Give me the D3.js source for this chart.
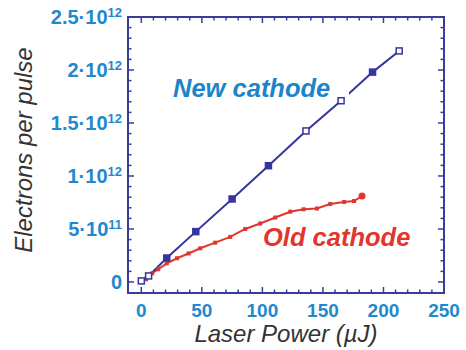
<!DOCTYPE html>
<html>
<head>
<meta charset="utf-8">
<script src="https://cdn.jsdelivr.net/npm/d3@7"></script>
<style>
  body { margin: 0; background: #fff; }
  svg { display: block; font-family: "Liberation Sans", Arial, sans-serif; }
</style>
</head>
<body>
<div id="chart"></div>
<script>
const width = 466;
const height = 350;

// New cathode (laser power in uJ, electrons per pulse in 1e12)
const newPower = [0, 6, 21, 45, 75, 105, 136, 165, 191, 213];
const newCharge = [0.01, 0.057, 0.226, 0.475, 0.783, 1.097, 1.425, 1.71, 1.98, 2.18];
const newFilled = [false, false, true, true, true, true, false, false, true, false];

// Old cathode
const oldPower = [0, 4, 9, 14, 21, 29.5, 39, 48.7, 61, 73.4, 85.8, 98.2, 110.6, 123, 134, 145, 156, 167.5, 175.7, 182.3];
const oldCharge = [0.003, 0.025, 0.082, 0.12, 0.176, 0.224, 0.269, 0.318, 0.371, 0.425, 0.5, 0.552, 0.608, 0.663, 0.686, 0.693, 0.736, 0.755, 0.764, 0.811];

const xMajorTicks = [0, 50, 100, 150, 200, 250];
const yMajorTicks = [0, 0.5, 1, 1.5, 2, 2.5];
const yTickMantissa = ["0", "5", "1", "1.5", "2", "2.5"];
const yTickExponent = ["", "11", "12", "12", "12", "12"];

const frameColor = "#3b3b9c";
const tickLabelColor = "#1f88cf";
const newColor = "#35359e";
const oldColor = "#e2352e";

const margin = { top: 17, right: 22, bottom: 57, left: 128 };

const svg = d3.select("#chart")
  .append("svg")
  .attr("width", width)
  .attr("height", height);

const x = d3.scaleLinear()
  .domain([-11, 250])
  .range([margin.left, width - margin.right]);

const y = d3.scaleLinear()
  .domain([-0.104, 2.5])
  .range([height - margin.bottom, margin.top]);

const x0 = x.range()[0], x1 = x.range()[1];
const y0 = y.range()[0], y1 = y.range()[1];

// ticks on all four sides, pointing inward
const xMinor = d3.range(0, 251, 10);
const yMinor = d3.range(0, 2.51, 0.1).map(v => +v.toFixed(2));
const ticks = svg.append("g").attr("stroke", frameColor).attr("stroke-width", 1.5);

xMinor.forEach(v => {
  const len = v % 50 === 0 ? 6 : 3.5;
  ticks.append("line").attr("x1", x(v)).attr("x2", x(v)).attr("y1", y0).attr("y2", y0 - len);
  ticks.append("line").attr("x1", x(v)).attr("x2", x(v)).attr("y1", y1).attr("y2", y1 + len);
});

yMinor.forEach(v => {
  const len = Math.abs(v * 2 - Math.round(v * 2)) < 1e-6 ? 6 : 3.5;
  ticks.append("line").attr("y1", y(v)).attr("y2", y(v)).attr("x1", x0).attr("x2", x0 + len);
  ticks.append("line").attr("y1", y(v)).attr("y2", y(v)).attr("x1", x1).attr("x2", x1 - len);
});

svg.append("rect")
  .attr("x", x0)
  .attr("y", y1)
  .attr("width", x1 - x0)
  .attr("height", y0 - y1)
  .attr("fill", "none")
  .attr("stroke", frameColor)
  .attr("stroke-width", 2);

// tick labels
svg.append("g")
  .selectAll("text")
  .data(xMajorTicks)
  .join("text")
  .attr("x", d => x(d))
  .attr("y", 317)
  .attr("text-anchor", "middle")
  .attr("fill", tickLabelColor)
  .attr("font-size", 19)
  .attr("font-weight", "bold")
  .text(d => d);

const yLabels = svg.append("g")
  .selectAll("text")
  .data(yMajorTicks)
  .join("text")
  .attr("x", 122)
  .attr("y", d => y(d) + 7)
  .attr("text-anchor", "end")
  .attr("fill", tickLabelColor)
  .attr("font-size", 20)
  .attr("font-weight", "bold");

yLabels.each(function(d, i) {
  const t = d3.select(this);
  if (yTickExponent[i] === "") {
    t.text(yTickMantissa[i]);
    return;
  }
  t.append("tspan").text(`${yTickMantissa[i]}\u00b710`);
  t.append("tspan")
    .attr("font-size", 13)
    .attr("dy", -7)
    .text(yTickExponent[i]);
});

// axis titles
svg.append("text")
  .attr("x", (x0 + x1) / 2)
  .attr("y", 342)
  .attr("text-anchor", "middle")
  .attr("fill", "#333")
  .attr("font-size", 24)
  .attr("font-style", "italic")
  .text("Laser Power (\u00b5J)");

svg.append("text")
  .attr("transform", `translate(32, ${(y0 + y1) / 2 - 5}) rotate(-90)`)
  .attr("text-anchor", "middle")
  .attr("fill", "#333")
  .attr("font-size", 24)
  .attr("font-style", "italic")
  .text("Electrons per pulse");

// series
const line = d3.line().x(d => x(d[0])).y(d => y(d[1]));
const newData = newPower.map((p, i) => [p, newCharge[i], newFilled[i]]);
const oldData = oldPower.map((p, i) => [p, oldCharge[i]]);

svg.append("path")
  .datum(oldData)
  .attr("d", line)
  .attr("fill", "none")
  .attr("stroke", oldColor)
  .attr("stroke-width", 2);

svg.append("path")
  .datum(newData)
  .attr("d", line)
  .attr("fill", "none")
  .attr("stroke", newColor)
  .attr("stroke-width", 2);

// label for the new cathode sits on a white box that cuts the line
const newLabel = svg.append("text")
  .attr("x", 173)
  .attr("y", 97)
  .attr("fill", "#1c84c9")
  .attr("font-size", 25.5)
  .attr("font-weight", "bold")
  .attr("font-style", "italic")
  .text("New cathode");

const box = newLabel.node().getBBox();
svg.insert("rect", () => newLabel.node())
  .attr("x", box.x - 2)
  .attr("y", box.y)
  .attr("width", 349 - box.x + 2)
  .attr("height", 99 - box.y)
  .attr("fill", "#fff");

svg.append("text")
  .attr("x", 263)
  .attr("y", 246)
  .attr("fill", oldColor)
  .attr("font-size", 25.5)
  .attr("font-weight", "bold")
  .attr("font-style", "italic")
  .text("Old cathode");

svg.append("g")
  .selectAll("rect")
  .data(oldData)
  .join("rect")
  .attr("x", d => x(d[0]) - 2)
  .attr("y", d => y(d[1]) - 2)
  .attr("width", 4)
  .attr("height", 4)
  .attr("fill", oldColor);

svg.append("circle")
  .attr("cx", x(oldData[oldData.length - 1][0]))
  .attr("cy", y(oldData[oldData.length - 1][1]))
  .attr("r", 3.5)
  .attr("fill", oldColor);

svg.append("g")
  .selectAll("rect")
  .data(newData)
  .join("rect")
  .attr("x", d => x(d[0]) - 3)
  .attr("y", d => y(d[1]) - 3)
  .attr("width", 6)
  .attr("height", 6)
  .attr("fill", d => d[2] ? newColor : "#fff")
  .attr("stroke", newColor)
  .attr("stroke-width", 1.5);
</script>
</body>
</html>
